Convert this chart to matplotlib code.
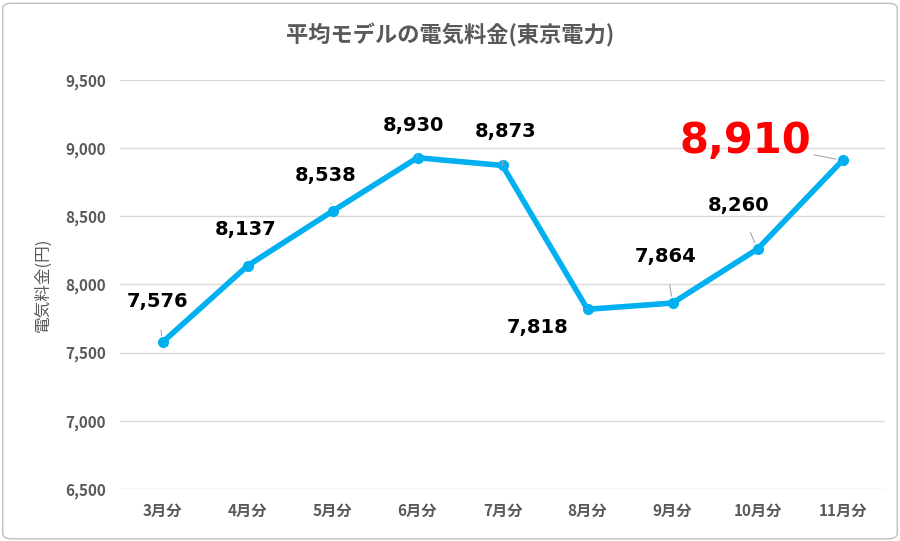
import matplotlib.pyplot as plt
from matplotlib.patches import FancyBboxPatch

plt.rcParams['font.family'] = 'Noto Sans CJK JP'

months = ['3月分', '4月分', '5月分', '6月分', '7月分', '8月分', '9月分', '10月分', '11月分']
prices = [7576, 8137, 8538, 8930, 8873, 7818, 7864, 8260, 8910]
# label offsets in pixels (dx, dy)
offsets = [(-5, 41), (-2, 36), (-7, 36), (-4, 32), (3, 34), (-50, -18), (-7, 47), (-19, 44), (-97, 19)]

fig = plt.figure(figsize=(9, 5.41), dpi=100)
frame = FancyBboxPatch((0.003, 0.004), 0.994, 0.99, boxstyle='round,pad=0,rounding_size=0.01',
                       transform=fig.transFigure, fc='white', ec='#bfbfbf', lw=1, zorder=-10)
fig.patches.append(frame)
ax = fig.add_axes([120 / 900, 1 - 489 / 541, 765 / 900, 409 / 541])
ax.set_facecolor('none')

x = range(len(months))
ax.plot(x, prices, color='#00B0F0', lw=4, marker='o', ms=7, zorder=3)

for i, (v, (dx, dy)) in enumerate(zip(prices, offsets)):
    last = i == len(prices) - 1
    ax.annotate(f'{v:,}', (i, v), xytext=(dx, dy), textcoords='offset pixels',
                ha='center', va='center', fontweight='bold',
                fontsize=30 if last else 14, color='#ff0000' if last else 'black',
                family='DejaVu Sans',
                arrowprops=dict(arrowstyle='-', color='#a6a6a6', lw=0.8, shrinkA=12 if not last else 26, shrinkB=5))

ax.set_xlim(-0.5, 8.5)
ax.set_ylim(6500, 9500)
ax.set_yticks(range(6500, 9501, 500))
ax.set_yticklabels([f'{t:,}' for t in range(6500, 9501, 500)])
ax.set_xticks(list(x))
ax.set_xticklabels(months)
ax.grid(axis='y', color='#d9d9d9', lw=1)
ax.set_axisbelow(True)
for s in ax.spines.values():
    s.set_visible(False)
ax.tick_params(length=0, colors='#595959', labelsize=11, pad=10)
for lab in ax.get_xticklabels() + ax.get_yticklabels():
    lab.set_fontweight('bold')

ax.set_ylabel('電気料金(円)', color='#595959', fontsize=12, labelpad=10)
fig.text(0.5, 1 - 35 / 541, '平均モデルの電気料金(東京電力)', ha='center', va='center',
         fontsize=16, fontweight='bold', color='#595959')

fig.savefig('out.png', dpi=100)
